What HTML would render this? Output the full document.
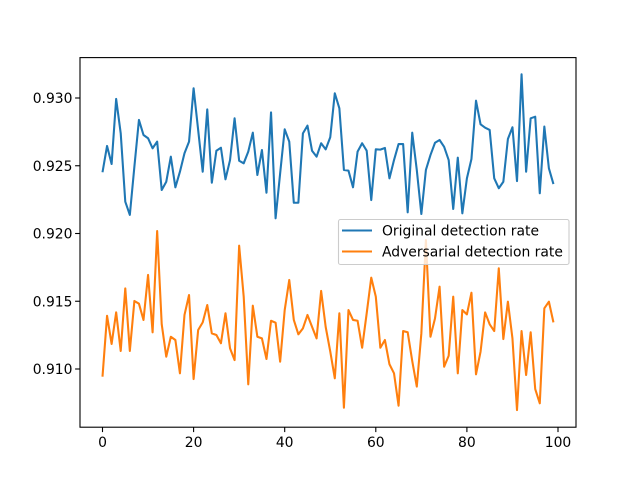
<!DOCTYPE html>
<html><head><meta charset="utf-8"><style>
body{margin:0;background:#fff}
svg{display:block;font-family:"DejaVu Sans","Liberation Sans",sans-serif}
</style></head><body>
<svg id="chart" width="640" height="480" viewBox="0 0 640 480" xmlns="http://www.w3.org/2000/svg">
<rect width="640" height="480" fill="#fff"/>
<g id="marks"></g>
<rect x="80" y="57.6" width="496" height="369.6" fill="none" stroke="#000" stroke-width="1.1"/>
<g id="axes"></g>
<g>
<rect x="338.5" y="219.5" width="230.5" height="45" rx="2" fill="#fff" fill-opacity="0.8" stroke="#ccc" stroke-width="1.1"/>
<g>
<line x1="342" y1="230.5" x2="372" y2="230.5" stroke="#1f77b4" stroke-width="2.08"/>
<text x="382" y="235.5" font-size="13.9" fill="#000">Original detection rate</text>
</g>
<g>
<line x1="342" y1="251.5" x2="372" y2="251.5" stroke="#ff7f0e" stroke-width="2.08"/>
<text x="382" y="256.5" font-size="13.9" fill="#000">Adversarial detection rate</text>
</g>
</g>
</svg>
<script>
const originalRate = [0.92452,0.92646,0.92513,0.92993,0.92739,0.92235,0.92137,0.92493,0.92838,0.92727,
0.92703,0.92629,0.92678,0.92321,0.92382,0.92567,0.92341,0.92456,0.92592,0.92678,
0.93072,0.92764,0.92456,0.92916,0.92375,0.92611,0.92633,0.92400,0.92542,0.92850,
0.92537,0.92518,0.92604,0.92744,0.92432,0.92616,0.92301,0.92894,0.92112,0.92444,
0.92769,0.92678,0.92227,0.92227,0.92739,0.92796,0.92611,0.92567,0.92666,0.92621,
0.92710,0.93035,0.92924,0.92469,0.92464,0.92341,0.92604,0.92666,0.92611,0.92247,
0.92621,0.92619,0.92631,0.92407,0.92542,0.92660,0.92660,0.92156,0.92744,0.92469,
0.92144,0.92469,0.92579,0.92670,0.92690,0.92640,0.92542,0.92181,0.92560,0.92149,
0.92407,0.92550,0.92980,0.92806,0.92781,0.92764,0.92407,0.92334,0.92382,0.92697,
0.92784,0.92387,0.93175,0.92456,0.92850,0.92862,0.92297,0.92789,0.92481,0.92365];
const adversarialRate = [0.90943,0.91393,0.91185,0.91418,0.91133,0.91595,0.91133,0.91502,0.91482,0.91362,
0.91694,0.91271,0.92018,0.91330,0.91091,0.91238,0.91214,0.90968,0.91399,0.91546,
0.90926,0.91288,0.91344,0.91472,0.91263,0.91251,0.91190,0.91411,0.91152,0.91066,
0.91910,0.91534,0.90887,0.91467,0.91238,0.91226,0.91074,0.91356,0.91342,0.91054,
0.91435,0.91657,0.91362,0.91256,0.91300,0.91399,0.91312,0.91226,0.91576,0.91310,
0.91130,0.90931,0.91411,0.90714,0.91435,0.91362,0.91356,0.91157,0.91411,0.91674,
0.91534,0.91157,0.91214,0.91035,0.90968,0.90729,0.91280,0.91271,0.91059,0.90870,
0.91263,0.91952,0.91238,0.91374,0.91608,0.91017,0.91098,0.91534,0.90968,0.91435,
0.91403,0.91563,0.90961,0.91128,0.91418,0.91330,0.91280,0.91743,0.91221,0.91497,
0.91226,0.90697,0.91280,0.90956,0.91271,0.90852,0.90747,0.91448,0.91497,0.91344];
const xTicks = [0,20,40,60,80,100];
const yTicks = [0.910,0.915,0.920,0.925,0.930];
const yTickLabels = ["0.910","0.915","0.920","0.925","0.930"];

const NS = "http://www.w3.org/2000/svg";
function xScale(v){ return 102.5 + v*4.555; }
function yScale(v){ return 98 + (0.930 - v)*13550; }

const marks = document.getElementById('marks');
function drawSeries(arr, color, name){
  const pts = arr.map((v,i)=>xScale(i).toFixed(2)+','+yScale(v).toFixed(2)).join(' ');
  const pl = document.createElementNS(NS,'polyline');
  pl.setAttribute('points', pts);
  pl.setAttribute('fill','none');
  pl.setAttribute('stroke', color);
  pl.setAttribute('stroke-width','2.08');
  pl.setAttribute('stroke-linejoin','round');
  
  
  marks.appendChild(pl);
}
drawSeries(originalRate, '#1f77b4', 'original-detection-line');
drawSeries(adversarialRate, '#ff7f0e', 'adversarial-detection-line');

const axes = document.getElementById('axes');
xTicks.forEach(t=>{
  const x = xScale(t);
  const l = document.createElementNS(NS,'line');
  l.setAttribute('x1',x); l.setAttribute('x2',x);
  l.setAttribute('y1',427.2); l.setAttribute('y2',432.1);
  l.setAttribute('stroke','#000'); l.setAttribute('stroke-width','1.1');
  
  
  axes.appendChild(l);
  const tx = document.createElementNS(NS,'text');
  tx.setAttribute('x',x); tx.setAttribute('y',447);
  tx.setAttribute('text-anchor','middle'); tx.setAttribute('font-size','13.9');
  tx.textContent = String(t);
  
  
  axes.appendChild(tx);
});
yTicks.forEach((t,i)=>{
  const y = yScale(t);
  const l = document.createElementNS(NS,'line');
  l.setAttribute('x1',75.1); l.setAttribute('x2',80);
  l.setAttribute('y1',y); l.setAttribute('y2',y);
  l.setAttribute('stroke','#000'); l.setAttribute('stroke-width','1.1');
  
  
  axes.appendChild(l);
  const tx = document.createElementNS(NS,'text');
  tx.setAttribute('x',72.5); tx.setAttribute('y',y+5);
  tx.setAttribute('text-anchor','end'); tx.setAttribute('font-size','13.9');
  tx.textContent = yTickLabels[i];
  
  
  axes.appendChild(tx);
});
</script>
</body></html>
